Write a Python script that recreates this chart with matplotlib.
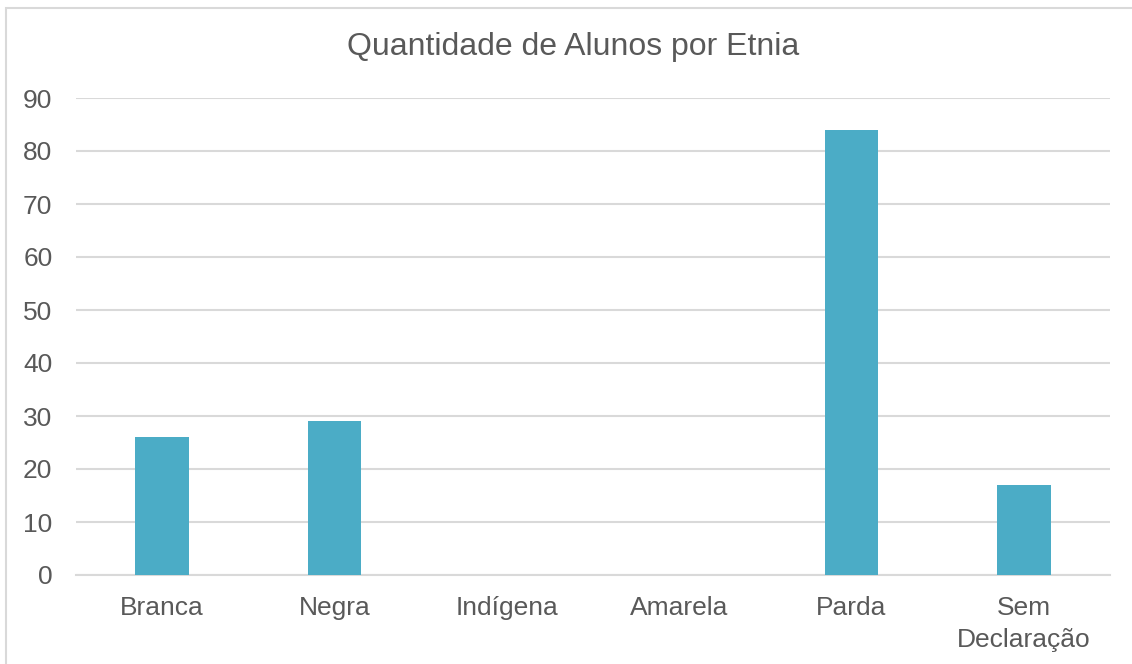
import matplotlib
matplotlib.use("Agg")
import matplotlib.pyplot as plt
from matplotlib.patches import Rectangle

# chart data
categories = ["Branca", "Negra", "Indígena", "Amarela", "Parda", "Sem\nDeclaração"]
alunos = [26, 29, 0, 0, 84, 17]
y_ticks = [0, 10, 20, 30, 40, 50, 60, 70, 80, 90]

BAR_COLOR = "#4BACC6"
TEXT_COLOR = "#595959"
GRID_COLOR = "#D9D9D9"

plt.rcParams["font.family"] = ["Liberation Sans", "DejaVu Sans"]

W, H = 1132, 664
fig = plt.figure(figsize=(W / 100, H / 100), dpi=100)
fig.patch.set_facecolor("white")

# outer chart border (light gray frame)
fig.patches.append(Rectangle((6 / W, -0.1), 1.2, 1 - 8 / H + 0.1,
                             transform=fig.transFigure, fill=False,
                             edgecolor="#D9D9D9", linewidth=1.5))

left, right = 76 / W, 1110 / W
bottom, top = 1 - 575 / H, 1 - 98 / H
ax = fig.add_axes([left, bottom, right - left, top - bottom])

x = range(len(categories))
ax.bar(x, alunos, width=0.31, color=BAR_COLOR, zorder=3)

ax.set_xlim(-0.5, len(categories) - 0.5)
ax.set_ylim(0, 90)
ax.set_yticks(y_ticks)
ax.set_xticks(list(x))
ax.set_xticklabels(categories, fontsize=19, color=TEXT_COLOR, linespacing=1.45)
ax.tick_params(axis="y", labelsize=19, labelcolor=TEXT_COLOR, length=0, pad=17)
ax.tick_params(axis="x", length=0, pad=15)

ax.yaxis.grid(True, color=GRID_COLOR, linewidth=1.5, zorder=0)
for s in ["top", "right", "left"]:
    ax.spines[s].set_visible(False)
ax.spines["bottom"].set_color(GRID_COLOR)
ax.spines["bottom"].set_linewidth(1.5)

fig.text(573 / W, 1 - 47 / H, "Quantidade de Alunos por Etnia",
         ha="center", va="center", fontsize=23, color=TEXT_COLOR)

fig.savefig("out.png", dpi=100)
